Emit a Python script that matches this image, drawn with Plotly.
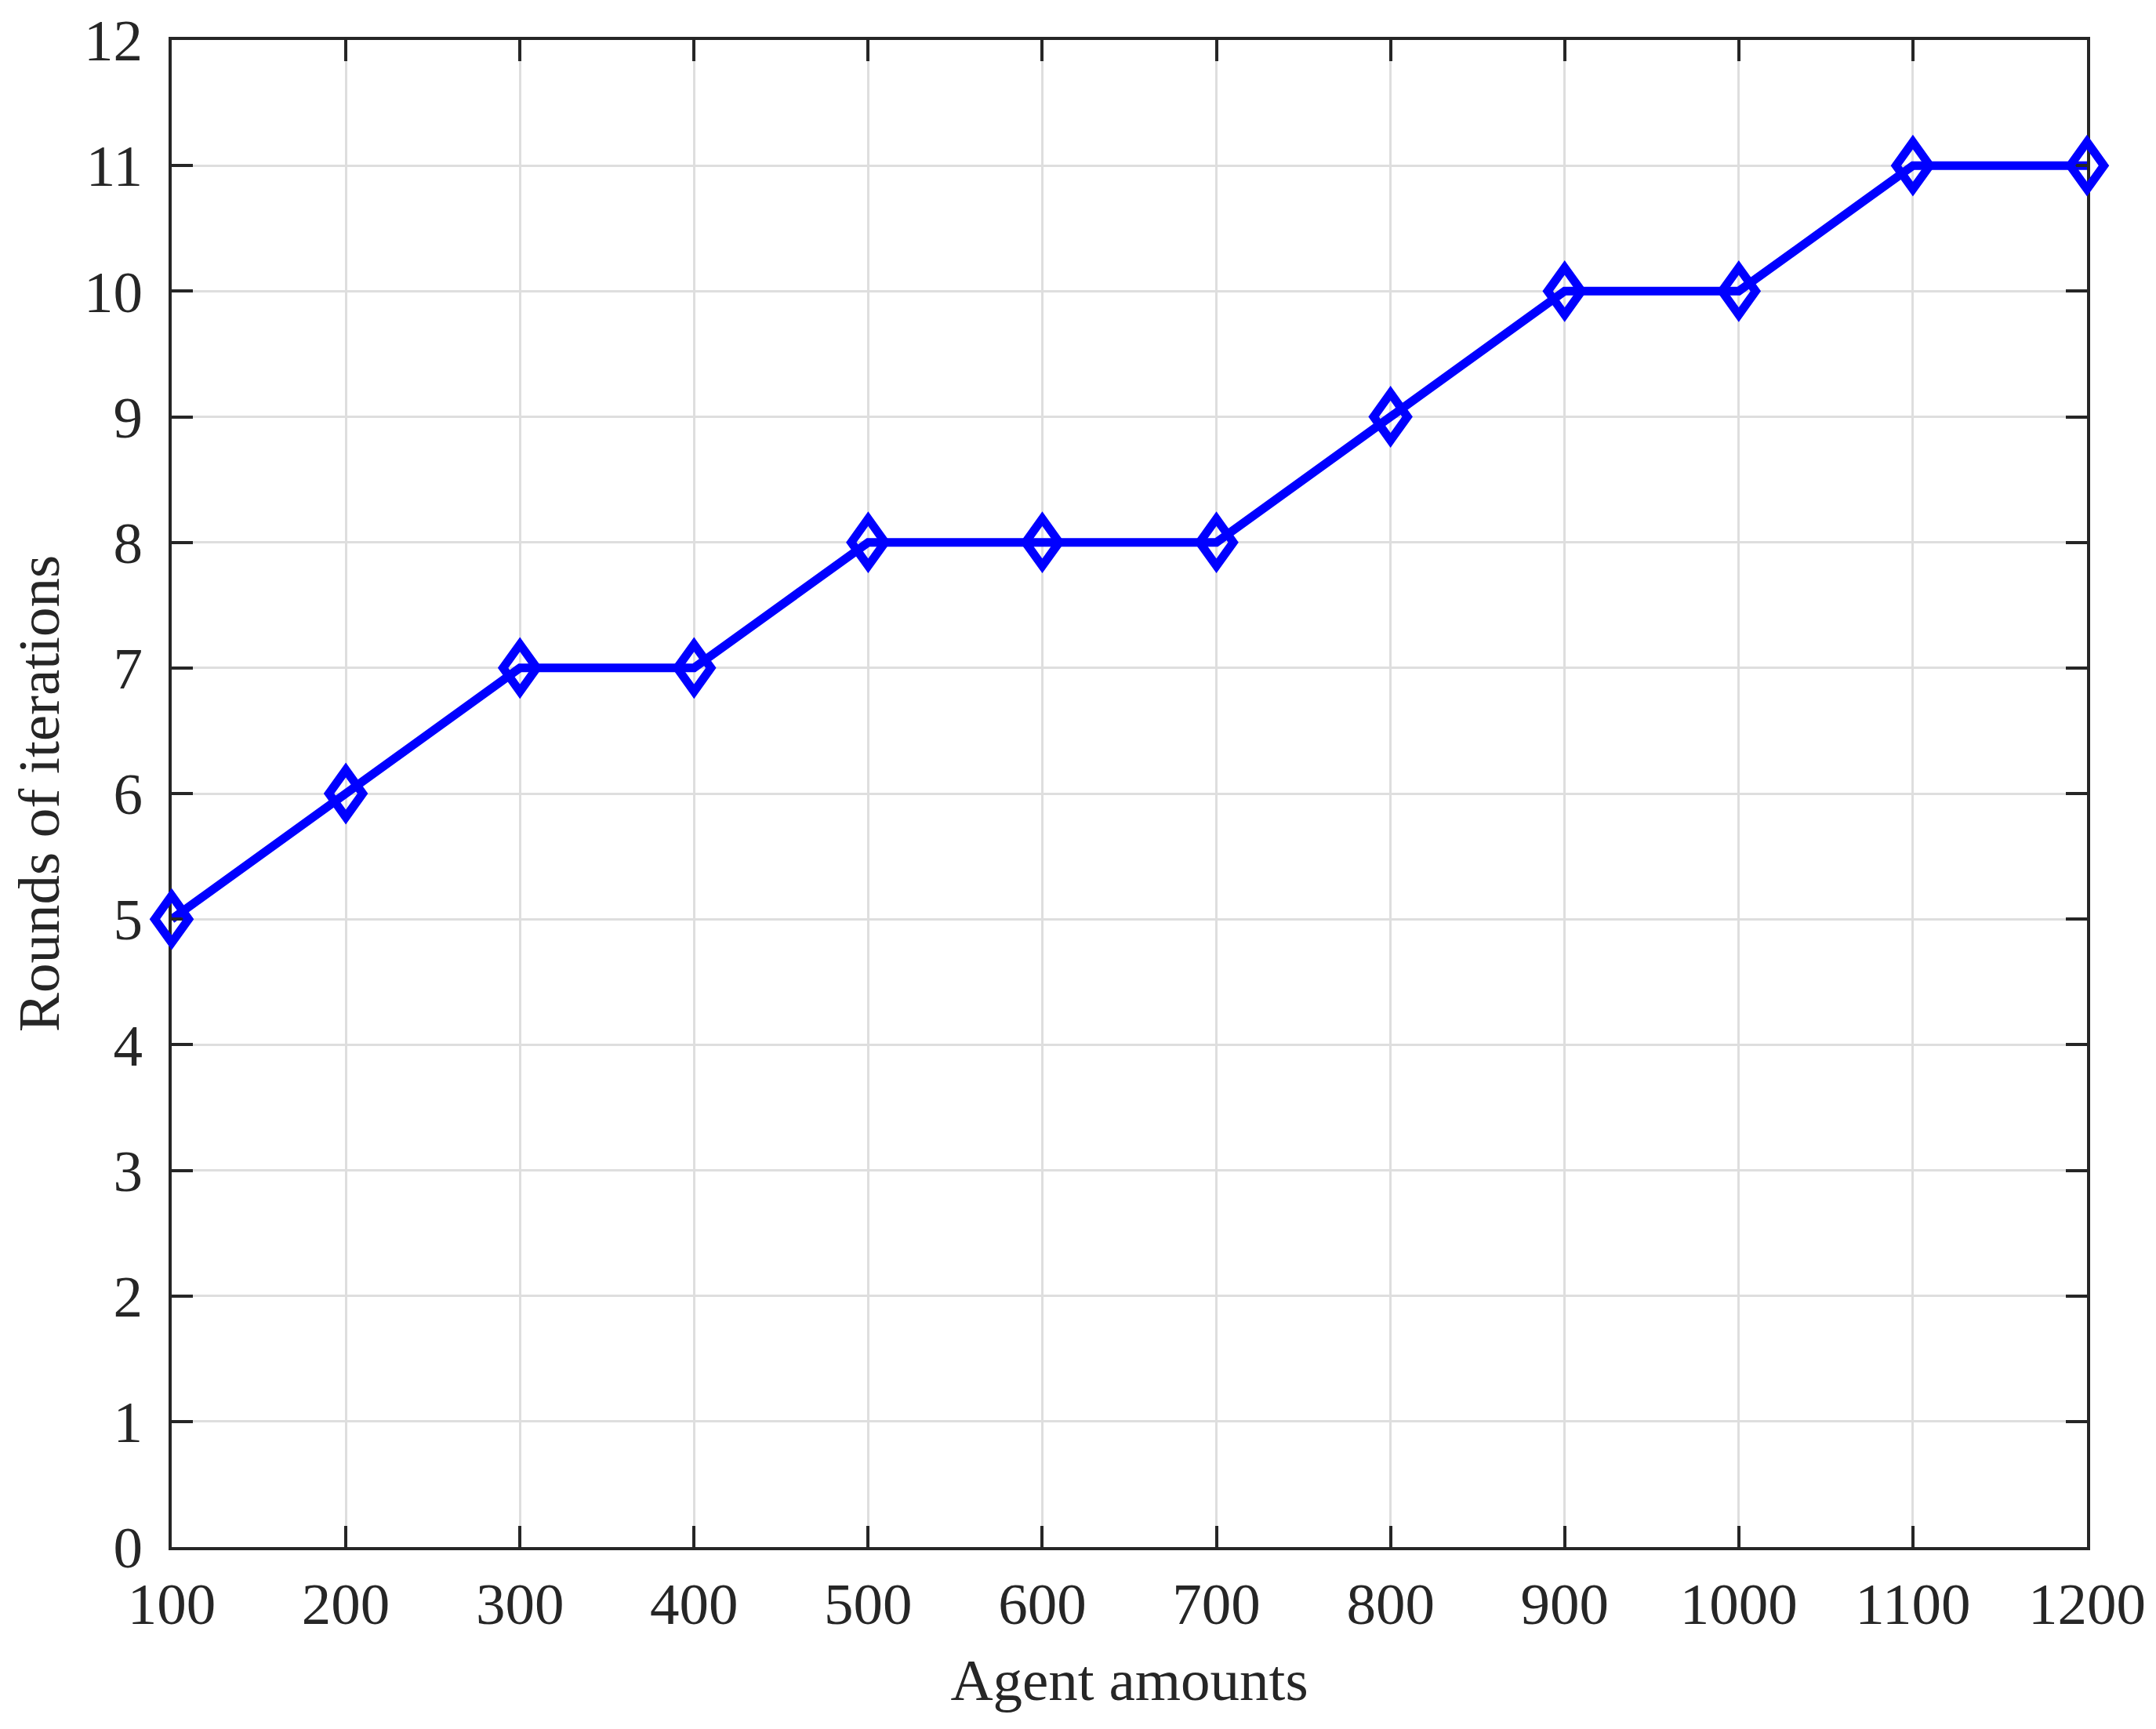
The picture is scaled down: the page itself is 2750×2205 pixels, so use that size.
import plotly.graph_objects as go

agents = [100, 200, 300, 400, 500, 600, 700, 800, 900, 1000, 1100, 1200]
rounds = [5, 6, 7, 7, 8, 8, 8, 9, 10, 10, 11, 11]
x_ticks = [100, 200, 300, 400, 500, 600, 700, 800, 900, 1000, 1100, 1200]
y_ticks = list(range(0, 13))

TXT = "#262626"
BLUE = "#0000ff"
FONT = "Liberation Serif, Times New Roman, serif"
FS = 75

W, H = 2734, 2189
ML, MR, MT, MB = 211, 80, 43, 224     # main plot-area margins (px)
PAD = 36                               # extra unclipped room for edge markers
X_RANGE = [100, 1200]
Y_RANGE = [0, 12]

plot_w = W - ML - MR
plot_h = H - MT - MB
px_per_x = plot_w / (X_RANGE[1] - X_RANGE[0])
px_per_y = plot_h / (Y_RANGE[1] - Y_RANGE[0])

# outer (marker) subplot covers the main plot area plus PAD on each side
outer_w = plot_w + 2 * PAD
outer_h = plot_h + 2 * PAD
x_dom = [PAD / outer_w, 1 - PAD / outer_w]
y_dom = [PAD / outer_h, 1 - PAD / outer_h]
X2_RANGE = [X_RANGE[0] - PAD / px_per_x, X_RANGE[1] + PAD / px_per_x]
Y2_RANGE = [Y_RANGE[0] - PAD / px_per_y, Y_RANGE[1] + PAD / px_per_y]

# open tall diamond marker, half-size in pixels -> data units
HALF_W_PX, HALF_H_PX = 21.5, 30.0
dx = HALF_W_PX / px_per_x
dy = HALF_H_PX / px_per_y

dia_x, dia_y = [], []
for xv, yv in zip(agents, rounds):
    dia_x += [xv, xv + dx, xv, xv - dx, xv, xv + dx, None]
    dia_y += [yv + dy, yv, yv - dy, yv, yv + dy, yv, None]

fig = go.Figure()
fig.add_trace(go.Scatter(
    x=agents, y=rounds, mode="lines",
    line=dict(color=BLUE, width=11),
    showlegend=False, xaxis="x", yaxis="y",
))
fig.add_trace(go.Scatter(
    x=dia_x, y=dia_y, mode="lines",
    line=dict(color=BLUE, width=11),
    showlegend=False, hoverinfo="skip", xaxis="x2", yaxis="y2",
))

axis_common = dict(
    showline=True, linecolor=TXT, linewidth=4, mirror="ticks",
    ticks="inside", ticklen=27, tickwidth=4, tickcolor=TXT,
    showgrid=True, gridcolor="#dedede", gridwidth=3,
    zeroline=False, ticklabeloverflow="allow",
    tickfont=dict(family=FONT, size=FS, color=TXT),
)

fig.update_layout(
    width=W, height=H,
    margin=dict(l=ML - PAD, r=MR - PAD, t=MT - PAD, b=MB - PAD),
    paper_bgcolor="white", plot_bgcolor="rgba(0,0,0,0)",
    font=dict(family=FONT, color=TXT),
    xaxis=dict(range=X_RANGE, domain=x_dom, anchor="y",
               tickvals=x_ticks, ticktext=[str(v) for v in x_ticks],
               title=dict(text="Agent amounts", font=dict(family=FONT, size=FS, color=TXT), standoff=30),
               ticklabelstandoff=4, automargin=False, **axis_common),
    yaxis=dict(range=Y_RANGE, domain=y_dom, anchor="x",
               tickvals=y_ticks, ticktext=[str(v) for v in y_ticks],
               title=dict(text="Rounds of iterations", font=dict(family=FONT, size=FS, color=TXT), standoff=30),
               ticklabelstandoff=18, automargin=False, **axis_common),
    xaxis2=dict(range=X2_RANGE, domain=[0, 1], anchor="y2", visible=False, fixedrange=True),
    yaxis2=dict(range=Y2_RANGE, domain=[0, 1], anchor="x2", visible=False, fixedrange=True),
)

fig.write_html("out.html")
